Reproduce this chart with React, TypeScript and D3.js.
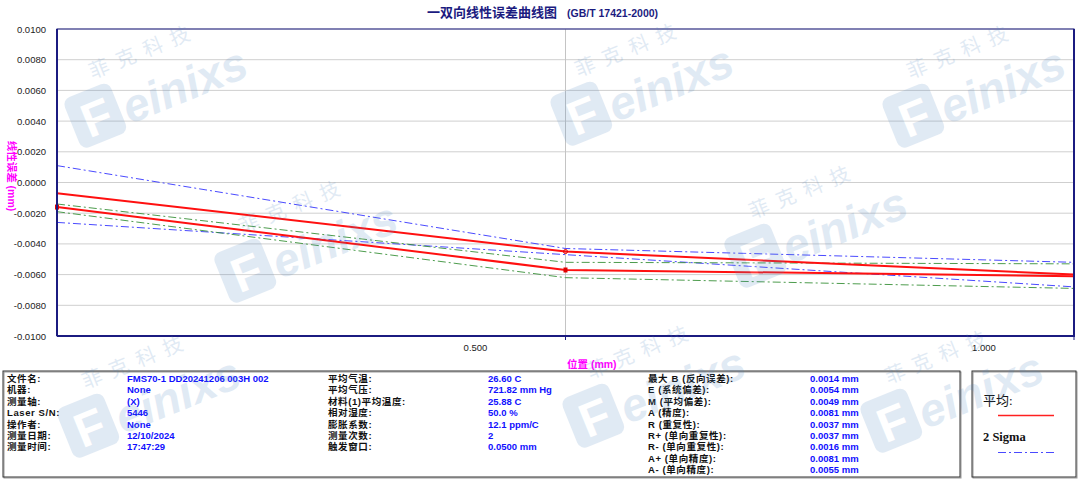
import React from "react";
import * as d3 from "d3";

// positions along the axis (mm)
const positions = [0, 0.5, 1.0];

// mean error and its 2-sigma band, first direction (red upper / blue)
const meanA = [-0.0007, -0.0045, -0.006];
const sigmaUpperA = [0.0011, -0.0043, -0.0052];
const sigmaLowerA = [-0.0026, -0.0047, -0.0068];

// mean error and its 2-sigma band, second direction (red lower / green)
const meanB = [-0.0016, -0.0057, -0.0061];
const sigmaUpperB = [-0.0014, -0.0052, -0.0053];
const sigmaLowerB = [-0.0019, -0.0062, -0.0069];

const yTicks = [0.01, 0.008, 0.006, 0.004, 0.002, 0, -0.002, -0.004, -0.006, -0.008, -0.01];
const xTicks = [0.5, 1.0];

const infoCol1 = [
  ["文件名:", "FMS70-1 DD20241206 003H 002"],
  ["机器:", " None"],
  ["测量轴:", "(X)"],
  ["Laser S/N:", "5446"],
  ["操作者:", " None"],
  ["测量日期:", "12/10/2024"],
  ["测量时间:", "17:47:29"],
];
const infoCol2 = [
  ["平均气温:", "26.60 C"],
  ["平均气压:", "721.82 mm Hg"],
  ["材料(1)平均温度:", "25.88 C"],
  ["相对湿度:", "50.0 %"],
  ["膨胀系数:", "12.1 ppm/C"],
  ["测量次数:", "2"],
  ["触发窗口:", "0.0500 mm"],
];
const infoCol3 = [
  ["最大 B (反向误差):", "0.0014 mm"],
  ["E (系统偏差):", "0.0054 mm"],
  ["M (平均偏差):", "0.0049 mm"],
  ["A (精度):", "0.0081 mm"],
  ["R (重复性):", "0.0037 mm"],
  ["R+ (单向重复性):", "0.0037 mm"],
  ["R- (单向重复性):", "0.0016 mm"],
  ["A+ (单向精度):", "0.0081 mm"],
  ["A- (单向精度):", "0.0055 mm"],
];

// watermark anchor spots (top-left of the "F" badge)
const marks = [
  [62, 100], [548, 98], [880, 100],
  [212, 255], [722, 240],
  [55, 410], [560, 400], [858, 405],
];

const W = 1080;
const H = 480;
const mLeft = 57;
const mRight = 1074;
const mTop = 29;
const mBottom = 336;

const font = "'Liberation Sans', Arial, 'Noto Sans CJK SC', sans-serif";
const navy = "#1b1b80";
const dashDot = "8,3,2,3";

function Watermark({ x, y }: { x: number; y: number }) {
  return (
    <g transform={`translate(${x},${y}) rotate(-22)`} opacity={0.17}>
      <rect x={0} y={0} width={50} height={54} rx={8} fill="#4f86c0" />
      <text x={11} y={46} fontSize={48} fontWeight="bold" fill="#fff" fontFamily="'Liberation Sans', Arial, sans-serif">
        F
      </text>
      <text x={54} y={48} fontSize={46} fontWeight="bold" fontStyle="italic" fill="#4f86c0" fontFamily="'Liberation Sans', Arial, sans-serif">
        einixs
      </text>
      <text x={36} y={-8} fontSize={20} fill="#4f86c0" letterSpacing={9} fontFamily="'Noto Sans CJK SC', sans-serif">
        菲克科技
      </text>
    </g>
  );
}

export default function App() {
  const x = d3.scaleLinear().domain([0, 1.0]).range([mLeft, mRight]);
  const y = d3.scaleLinear().domain([-0.01, 0.01]).range([mBottom, mTop]);

  const line = d3
    .line<number>()
    .x((_, i) => x(positions[i]))
    .y((d) => y(d));

  const series = [
    { vals: sigmaUpperA, color: "#2a2aff", width: 1, dash: dashDot },
    { vals: sigmaLowerA, color: "#2a2aff", width: 1, dash: dashDot },
    { vals: sigmaUpperB, color: "#2e8b2e", width: 1, dash: dashDot },
    { vals: sigmaLowerB, color: "#2e8b2e", width: 1, dash: dashDot },
    { vals: meanA, color: "#ff1010", width: 2, dash: undefined },
    { vals: meanB, color: "#ff1010", width: 2, dash: undefined },
  ];

  const rowY = (i: number) => 382 + i * 11.4;

  const infoBlock = (rows: string[][], lx: number, vx: number, key: string) =>
    rows.map((r, i) => (
      <g key={key + i}>
        <text x={lx} y={rowY(i)} fontSize={9.5} fontWeight="bold" fill="#111" letterSpacing={0.6}>
          {r[0]}
        </text>
        <text x={vx} y={rowY(i)} fontSize={9.5} fontWeight="bold" fill="#1010ff">
          {r[1]}
        </text>
      </g>
    ));

  return (
    <svg
      width={W}
      height={H}
      style={{ position: "absolute", left: 0, top: 0, background: "#fff" }}
      fontFamily={font}
    >
      <rect x={0} y={0} width={W} height={H} fill="#fff" />

      {/* title */}
      <text x={427} y={17} fontSize={13} fontWeight="bold" fill={navy}>
        一双向线性误差曲线图
        <tspan dx={10} fontSize={10.5}>(GB/T 17421-2000)</tspan>
      </text>

      {/* grid */}
      {yTicks.map((t) => (
        <line key={"gy" + t} x1={mLeft} x2={mRight} y1={y(t)} y2={y(t)} stroke="#cfcfcf" strokeWidth={1} />
      ))}
      <line x1={x(0.5)} x2={x(0.5)} y1={mTop} y2={mBottom} stroke="#c4c4c4" strokeWidth={1} />

      {/* y tick labels */}
      {yTicks.map((t) => (
        <text key={"ty" + t} x={46} y={y(t) + 3.5} fontSize={9.5} fill="#222" textAnchor="end">
          {t.toFixed(4)}
        </text>
      ))}

      {/* x ticks and labels (labels sit left of their ticks, as in the source software) */}
      {xTicks.map((t) => (
        <g key={"tx" + t}>
          <line x1={x(t)} x2={x(t)} y1={mBottom} y2={mBottom + 4} stroke={navy} strokeWidth={1} />
          <text x={x(t) - 90} y={mBottom + 15} fontSize={9.5} fill="#222" textAnchor="middle">
            {t.toFixed(3)}
          </text>
        </g>
      ))}

      {/* axis titles */}
      <text
        transform={`translate(8, ${176}) rotate(90)`}
        fontSize={10.5}
        fontWeight="bold"
        fill="#ff00ff"
        textAnchor="middle"
      >
        线性误差 (mm)
      </text>
      <text x={567} y={368} fontSize={10.5} fontWeight="bold" fill="#ff00ff">
        位置 (mm)
      </text>

      {/* series */}
      {series.map((s, i) => (
        <path
          key={"s" + i}
          d={line(s.vals) || ""}
          fill="none"
          stroke={s.color}
          strokeWidth={s.width}
          strokeDasharray={s.dash}
          opacity={s.dash ? 0.85 : 1}
        />
      ))}
      {meanB.slice(0, 2).map((v, i) => (
        <rect key={"mb" + i} x={x(positions[i]) - 2} y={y(v) - 2.5} width={4} height={5} fill="#e00000" />
      ))}
      <circle cx={x(positions[1])} cy={y(meanA[1])} r={2} fill="none" stroke="#e00000" strokeWidth={1} />

      {/* plot frame */}
      <rect x={mLeft} y={mTop} width={mRight - mLeft} height={mBottom - mTop} fill="none" stroke={navy} strokeWidth={1} />
      <line x1={mLeft} x2={mLeft} y1={mTop} y2={mBottom} stroke={navy} strokeWidth={2} />
      <line x1={mLeft} x2={mRight + 1} y1={mBottom} y2={mBottom} stroke={navy} strokeWidth={2} />
      <line x1={mRight} x2={mRight} y1={mTop} y2={mBottom} stroke={navy} strokeWidth={2} />

      {/* info table */}
      <rect x={4} y={372} width={957} height={106} fill="none" stroke="#999" strokeWidth={1} />
      <rect x={3} y={371} width={957} height={106} fill="none" stroke="#333" strokeWidth={1} />
      {infoBlock(infoCol1, 7, 127, "c1")}
      {infoBlock(infoCol2, 328, 488, "c2")}
      {infoBlock(infoCol3, 648, 810, "c3")}

      {/* legend */}
      <rect x={973} y={372} width={104} height={106} fill="none" stroke="#999" strokeWidth={1} />
      <rect x={972} y={371} width={104} height={106} fill="none" stroke="#333" strokeWidth={1} />
      <text x={983} y={405} fontSize={13} fill="#111" fontFamily="'Liberation Serif', 'Noto Sans CJK SC', serif">
        平均:
      </text>
      <line x1={998} x2={1054} y1={415.5} y2={415.5} stroke="#ff2020" strokeWidth={1.5} />
      <text x={983} y={441} fontSize={12.5} fontWeight="bold" fill="#111" fontFamily="'Liberation Serif', serif">
        2 Sigma
      </text>
      <line x1={998} x2={1054} y1={452.5} y2={452.5} stroke="#4a4aff" strokeWidth={1} strokeDasharray={dashDot} />

      {/* watermark */}
      <g pointerEvents="none">
        {marks.map(([mx, my], i) => (
          <Watermark key={"wm" + i} x={mx} y={my} />
        ))}
      </g>
    </svg>
  );
}
